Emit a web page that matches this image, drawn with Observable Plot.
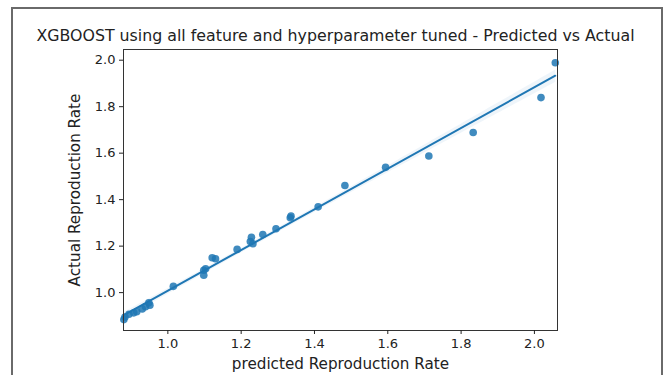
<!DOCTYPE html>
<html>
<head>
<meta charset="utf-8">
<script src="https://cdn.jsdelivr.net/npm/d3@7"></script>
<script src="https://cdn.jsdelivr.net/npm/@observablehq/plot@0.6"></script>
<style>
  html, body { margin: 0; padding: 0; background: #fff; overflow: hidden; }
  #wrap { position: relative; width: 668px; height: 375px; overflow: hidden; font-family: "DejaVu Sans", sans-serif; }
  #frame { position: absolute; left: 11px; top: 7px; width: 652px; height: 420px; border: 2px solid #6a6a6a; box-sizing: border-box; }
  #title { position: absolute; left: 0; top: 26px; width: 671px; text-align: center; font-size: 15.8px; line-height: 19px; color: #222; z-index: 2; }
  #chart { position: absolute; left: 0; top: 0; }
  g[aria-label="x-axis label"] text, g[aria-label="y-axis label"] text { font-size: 15.2px; }
</style>
</head>
<body>
<div id="wrap">
  <div id="frame"></div>
  <div id="title">XGBOOST using all feature and hyperparameter tuned - Predicted vs Actual</div>
  <div id="chart"></div>
</div>
<script>
const titleText = "XGBOOST using all feature and hyperparameter tuned - Predicted vs Actual";
const xLabel = "predicted Reproduction Rate";
const yLabel = "Actual Reproduction Rate";

const predicted = [0.880, 0.883, 0.894, 0.907, 0.915, 0.930, 0.939, 0.948, 0.951, 1.015,
                   1.098, 1.098, 1.103, 1.121, 1.130, 1.189, 1.225, 1.228, 1.232, 1.259,
                   1.295, 1.336, 1.334, 1.410, 1.483, 1.594, 1.712, 1.833, 2.018, 2.057];
const actual    = [0.884, 0.895, 0.907, 0.913, 0.918, 0.930, 0.939, 0.956, 0.946, 1.027,
                   1.075, 1.096, 1.103, 1.150, 1.146, 1.186, 1.220, 1.238, 1.210, 1.250,
                   1.275, 1.329, 1.322, 1.369, 1.461, 1.539, 1.588, 1.689, 1.839, 1.989];
const xTicks = [1.0, 1.2, 1.4, 1.6, 1.8, 2.0];
const yTicks = [1.0, 1.2, 1.4, 1.6, 1.8, 2.0];

const data = predicted.map((p, i) => ({predicted: p, actual: actual[i]}));
const blue = "#1f77b4";
const fmt = d3.format(".1f");

const chart = Plot.plot({
  width: 668,
  height: 375,
  marginLeft: 123,
  marginRight: 111,
  marginTop: 49,
  marginBottom: 45,
  style: {fontFamily: "DejaVu Sans, sans-serif", fontSize: "13px", color: "#222", background: "transparent"},
  x: {domain: [0.879, 2.063], label: xLabel},
  y: {domain: [0.837, 2.046], label: yLabel},
  marks: [
    Plot.linearRegressionY(data, {x: "predicted", y: "actual", stroke: blue, strokeWidth: 2, fill: blue, fillOpacity: 0.07}),
    Plot.dot(data, {x: "predicted", y: "actual", r: 3.8, fill: blue, fillOpacity: 0.85, stroke: "none"}),
    Plot.frame({stroke: "#333", strokeWidth: 1}),
    Plot.axisX({ticks: xTicks, tickFormat: fmt, tickSize: 4, tickPadding: 4, label: xLabel, labelAnchor: "center", labelOffset: 38, labelArrow: "none"}),
    Plot.axisY({ticks: yTicks, tickFormat: fmt, tickSize: 4, tickPadding: 4, label: yLabel, labelAnchor: "center", labelOffset: 54, labelArrow: "none"})
  ]
});
document.getElementById("chart").appendChild(chart);
</script>
</body>
</html>
